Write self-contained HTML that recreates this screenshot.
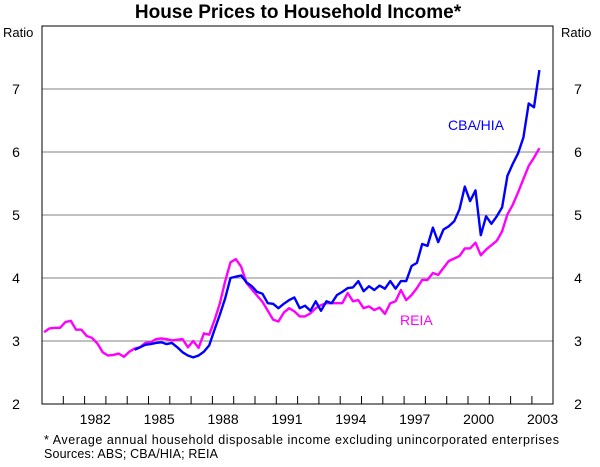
<!DOCTYPE html>
<html><head><meta charset="utf-8"><style>
body{margin:0;background:#fff;}
svg text{font-family:"Liberation Sans",Arial,sans-serif;}
</style></head><body>
<svg id="chart" width="600" height="462" xmlns="http://www.w3.org/2000/svg">
<text x="298" y="18" text-anchor="middle" font-size="19" font-weight="bold">House Prices to Household Income*</text>
<text x="3" y="37" font-size="13">Ratio</text>
<text x="561" y="37" font-size="13">Ratio</text>
<g id="grid"></g>
<g id="series"></g>
<rect x="42" y="26" width="511" height="378" fill="none" stroke="#000" stroke-width="1"/>
<g id="axes"></g>
<text x="448" y="130" font-size="14" fill="#0000ff">CBA/HIA</text>
<text x="400" y="325" font-size="14" fill="#ff00ff">REIA</text>
<text x="44" y="444" font-size="12.5" textLength="515" lengthAdjust="spacing">*   Average annual household disposable income excluding unincorporated enterprises</text>
<text x="44" y="458" font-size="12.5" textLength="174" lengthAdjust="spacing">Sources: ABS; CBA/HIA; REIA</text>
</svg>
<script>
const yTicks=[2,3,4,5,6,7];
const xLabels=[1982,1985,1988,1991,1994,1997,2000,2003];
const startYear=1980.1;
const reia=[3.14,3.20,3.21,3.21,3.30,3.32,3.18,3.18,3.08,3.05,2.96,2.82,2.77,2.78,2.80,2.75,2.83,2.88,2.90,2.97,2.98,3.03,3.04,3.03,3.01,3.02,3.03,2.90,3.00,2.89,3.12,3.10,3.33,3.60,3.95,4.25,4.30,4.18,3.92,3.82,3.72,3.62,3.48,3.34,3.31,3.45,3.52,3.47,3.39,3.39,3.44,3.52,3.57,3.60,3.60,3.60,3.60,3.76,3.63,3.65,3.52,3.55,3.49,3.53,3.43,3.60,3.63,3.81,3.65,3.73,3.84,3.97,3.97,4.08,4.05,4.16,4.27,4.31,4.35,4.47,4.47,4.56,4.36,4.45,4.52,4.59,4.74,5.01,5.16,5.36,5.57,5.78,5.91,6.06];
const cbaStart=17;
const cba=[2.86,2.90,2.94,2.95,2.97,2.98,2.95,2.97,2.90,2.82,2.77,2.74,2.77,2.83,2.93,3.18,3.42,3.68,4.00,4.02,4.04,3.93,3.87,3.78,3.75,3.60,3.59,3.52,3.59,3.65,3.69,3.52,3.56,3.48,3.63,3.48,3.63,3.60,3.73,3.78,3.84,3.85,3.95,3.79,3.87,3.81,3.88,3.83,3.95,3.83,3.95,3.95,4.19,4.24,4.54,4.51,4.80,4.57,4.77,4.82,4.90,5.09,5.45,5.22,5.39,4.68,4.98,4.86,4.98,5.12,5.62,5.81,5.98,6.23,6.77,6.71,7.30];
const X=t=>42+(t-1980)*21.3;
const Y=v=>404-(v-2)*63;
const NS="http://www.w3.org/2000/svg";
function mk(tag,attrs,parent){const e=document.createElementNS(NS,tag);for(const k in attrs)e.setAttribute(k,attrs[k]);parent.appendChild(e);return e;}
const grid=document.getElementById('grid'),axes=document.getElementById('axes'),ser=document.getElementById('series');
yTicks.forEach(v=>{
  if(v>2){const g=mk('line',{x1:42,x2:553,y1:Y(v),y2:Y(v),stroke:'#808080','stroke-width':1},grid);
  
  }
  const l=mk('text',{x:16,y:Y(v)+5,'font-size':14,'text-anchor':'middle'},axes);l.textContent=v;
  
  
  const r=mk('text',{x:578,y:Y(v)+5,'font-size':14,'text-anchor':'middle'},axes);r.textContent=v;
  
  
});
for(let yr=1981;yr<2004;yr++){
  const t=mk('line',{x1:X(yr),x2:X(yr),y1:404,y2:396,stroke:'#000','stroke-width':1},axes);
  
  
}
xLabels.forEach(yr=>{
  const l=mk('text',{x:X(yr+0.5),y:424,'font-size':14,'text-anchor':'middle'},axes);l.textContent=yr;
  
  
});
function line(arr,off,color,name){
  const pts=arr.map((v,i)=>X(startYear+(i+off)/4).toFixed(1)+','+Y(v).toFixed(1)).join(' ');
  const p=mk('polyline',{points:pts,fill:'none',stroke:color,'stroke-width':2.4,'stroke-linejoin':'round'},ser);
  
  
}
line(reia,0,'#ff00ff','reia-line');
line(cba,cbaStart,'#0000ff','cba-hia-line');
</script>
</body></html>
